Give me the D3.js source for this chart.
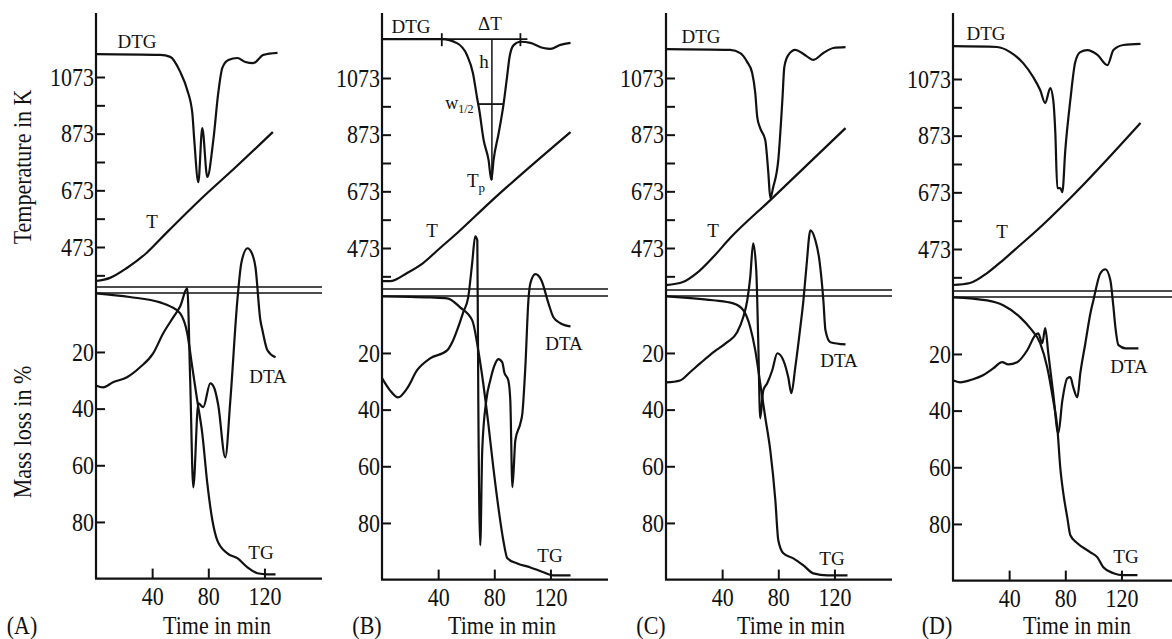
<!DOCTYPE html>
<html>
<head>
<meta charset="utf-8">
<script src="https://cdn.jsdelivr.net/npm/d3@7"></script>
<style>
  body { margin: 0; background: #fff; }
  svg { display: block; }
  text { font-family: "Liberation Serif", "Times New Roman", serif; fill: #111; }
</style>
</head>
<body>
<svg id="chart" width="1172" height="639"></svg>
<script>
// axis ticks
const tempTicks = [473, 673, 873, 1073];
const tempMinor = [373, 573, 773, 973];
const massTicks = [20, 40, 60, 80];
const timeTicks = [40, 80, 120];
const panelNames = ["(A)", "(B)", "(C)", "(D)"];

// [time in min, K read on the left axis]
const dtgA = [[0,1154],[45.7,1151],[52.9,1144],[60,1091],[65,1027],[68.6,946],[70,851],[72.9,702],[75.7,893],[79.3,720],[83.6,851],[87.1,1017],[90,1105],[94.3,1133],[100.7,1140],[106.4,1126],[112,1122],[119.3,1151],[129.3,1158]];
const dtgB = [[0,1210],[42.6,1210],[53.4,1196],[60.5,1154],[64.8,1090],[67.6,1007],[69.3,960],[72.4,854],[75.9,784],[77.9,713],[79.5,784],[83.1,878],[86.6,981],[89.1,1078],[90.9,1148],[93.8,1189],[98.6,1201],[105.7,1197],[115,1179],[120,1176],[127.1,1190],[134.3,1197]];
const dtgC = [[0,1175],[45.7,1172],[52.9,1161],[57.9,1129],[61.4,1091],[63.6,1020],[65,935],[67.1,896],[70.7,854],[72.9,738],[74.3,649],[76.4,688],[80,784],[82.9,995],[84.3,1112],[87.1,1154],[92.1,1172],[97.9,1158],[105,1137],[112.1,1161],[119.3,1179],[127.9,1182]];
const dtgD = [[0,1189],[31.4,1186],[40.7,1168],[50,1129],[57.1,1080],[62.1,1034],[65.7,988],[69.3,1041],[71.4,999],[72.9,882],[74.3,688],[76.4,688],[77.9,674],[80,822],[83.6,999],[87.1,1133],[90.7,1168],[95.7,1175],[102.9,1158],[110,1122],[114.3,1175],[121.4,1193],[133.6,1197]];

const tempA = [[0,353],[10,364],[22,399],[36,452],[50,522],[74,639],[100,757],[126,879]];
const tempB = [[0,356],[5.7,356],[17.9,385],[29.3,420],[41.4,473],[53.6,526],[77.1,635],[134.3,882]];
const tempC = [[0,342],[12.1,353],[22.1,385],[33.6,441],[45.7,508],[74.3,642],[127.9,896]];
const tempD = [[0,346],[12.1,353],[24.3,388],[35.7,434],[47.9,487],[60,540],[83.6,653],[133.6,918]];

// [time in min, % read on the mass-loss axis]
const dtaA = [[0,31.8],[5,32.5],[12.1,30.7],[22.1,28.9],[31.4,25.4],[40.7,20.5],[47.9,13.4],[55,7.8],[60,3.9],[65,-2.5],[67.1,30],[69.3,67.8],[72.9,38.1],[76.4,39.5],[81.4,31.1],[84.3,32.8],[87.1,38.8],[92.1,57.2],[95.7,37.1],[100.7,1.8],[103.6,-11.6],[107.9,-16.6],[110.7,-15.2],[113.6,-9.9],[117.1,8.8],[118.6,12.4],[122.1,19.4],[127.9,21.9]];
const dtaB = [[0,28.9],[5.7,33.2],[11.4,35.7],[17.9,32.5],[25,26.1],[34.3,21.9],[46.4,19.1],[50.7,15.5],[54.3,10.9],[57.9,5.6],[61.4,0.4],[64.3,-12],[66.4,-21.2],[67.9,-19.8],[68.6,36.7],[70,87.9],[71.4,54.4],[74.3,36.7],[77.1,29.7],[80.7,23.7],[82.9,22.2],[85.7,23.3],[87.1,26.8],[90,29.7],[91.4,36.7],[92.9,67.4],[95,50.8],[98.6,44.8],[100,41.3],[102.1,25.1],[104.3,1.4],[105.7,-4.6],[109.3,-7.8],[113.6,-5.6],[118.6,2.5],[122.1,7.4],[127.1,9.5],[134.3,10.6]];
const dtaC = [[0,30.4],[10,29.7],[17.1,26.8],[24.3,23.7],[33.6,19.8],[43.6,16.2],[50.7,12.7],[55,7.4],[57.9,1.4],[60,-6.7],[62.1,-18.7],[64.3,-9.2],[65.7,15.5],[67.1,43.1],[69.3,33.2],[72.1,30.7],[75.7,26.1],[79.3,20.1],[83.6,22.6],[87.1,28.6],[89.3,34.2],[92.1,25.1],[95.7,10.9],[97.9,1.4],[100,-10.2],[102.9,-23.3],[106.4,-19.8],[109.3,-12.7],[112.1,1.4],[113.6,12],[117.1,16.2],[127.9,17]];
const dtaD = [[0,29.3],[5,30],[14.3,28.9],[21.4,27.5],[28.6,25.1],[35,22.9],[39.3,23.7],[45.7,22.9],[52.9,18.7],[58.6,13.4],[60.7,12.7],[63.6,16.2],[65.7,10.9],[67.9,19.8],[71.4,33.9],[75,48],[77.9,36.4],[81.4,28.6],[83.6,28.2],[85.7,31.8],[88.6,35.3],[90.7,26.8],[94.3,16.2],[97.9,5.6],[100,1.1],[105,-8.5],[108.6,-9.9],[112.1,-6],[114.3,3.5],[115.7,10.6],[117.9,16.9],[122.9,18],[132.1,18]];

const tgA = [[0,-0.7],[24,0.6],[45.7,2.5],[52.9,3.9],[60,6.4],[65,13.4],[68.6,25.4],[72.1,37.1],[75.7,48.7],[79.3,66.4],[82.9,79.4],[86.4,86.5],[93.6,91.1],[100.7,92.8],[107.9,96],[115,98.1],[122,98.5],[127.9,98.5]];
const tgB = [[0,0],[34.3,0.4],[46.4,0.7],[55.7,3.9],[64.3,8.5],[68.6,19.1],[72.1,30.7],[75.7,44.8],[79.3,60.4],[82.9,74.5],[86.4,86.1],[89.3,92.5],[96.4,94.3],[105.7,95.7],[115,97.4],[122.1,98.5],[134.3,98.5]];
const tgC = [[0,0],[33.6,1.4],[47.9,2.5],[55,4.9],[60,10.9],[63.6,19.1],[67.1,30.7],[70.7,42.7],[74.3,54.4],[77.9,72],[80,86.1],[83.6,90.7],[90.7,92.5],[97.9,95],[105,97.8],[115,98.5],[129.3,98.5]];
const tgD = [[0,0],[24.3,1.1],[35.7,2.8],[47.9,7.1],[55,10.9],[62.1,16.2],[67.1,24.7],[71.4,36.4],[74.3,45.9],[76.4,60],[78.6,69.2],[81.4,77.7],[83.6,84],[88.6,86.8],[97.9,90],[102.9,91.8],[107.1,95.3],[114.3,97.4],[121.4,98.1],[131.4,98.1]];

// the two horizontal reference lines under the T curve (% axis)
const refA = [-2.9, -0.8], refB = [-2.6, -0.1], refC = [-2.2, -0.1], refD = [-2.2, -0.1];

// peak construction drawn in panel B
const deltaTB = [42.6, 98.6];      // start / end of the DTG peak (min)
const deltaTLineEnd = 103.6;
const baseKB = 1210;
const peakB = [78.3, 713];         // Tp
const halfB = [68.8, 86.6, 981];   // w1/2 from, to, level

const panels = [
  {x0: 96,  dy: 0, dtg: dtgA, temp: tempA, dta: dtaA, tg: tgA, ref: refA,
   lab: {dtg:[41,48], t:[56,228], dta:[172,383], tg:[165,559]}, title: 121, letter: -74},
  {x0: 382, dy: 1, dtg: dtgB, temp: tempB, dta: dtaB, tg: tgB, ref: refB,
   lab: {dtg:[29,33], t:[50,237], dta:[182,350], tg:[168,562]}, title: 120, letter: -15},
  {x0: 666, dy: 1, dtg: dtgC, temp: tempC, dta: dtaC, tg: tgC, ref: refC,
   lab: {dtg:[35,43], t:[47,237], dta:[173,367], tg:[166,565]}, title: 125, letter: -15},
  {x0: 953, dy: 2, dtg: dtgD, temp: tempD, dta: dtaD, tg: tgD, ref: refD,
   lab: {dtg:[33,40], t:[49,238], dta:[176,373], tg:[173,563]}, title: 124, letter: -16}
];

const svg = d3.select("#chart");
const ink = "#111";
const stretch = "scale(1,1.15)";

function bigText(x, y, txt, rot) {
  svg.append("text")
    .attr("transform", `translate(${x},${y})` + (rot ? " rotate(-90)" : "") + " " + stretch)
    .attr("text-anchor", "middle")
    .style("font-size", "22px")
    .text(txt);
}

function smallText(g, x, y, txt) {
  g.append("text")
    .attr("x", x).attr("y", y)
    .attr("text-anchor", "middle")
    .style("font-size", "19px")
    .text(txt);
}

panels.forEach(function(p, i) {
  const g = svg.append("g");
  const x = d3.scaleLinear().domain([0, 161]).range([p.x0, p.x0 + 226]);
  const yT = d3.scaleLinear().domain([473, 1073]).range([247 + p.dy, 77 + p.dy]);
  const yM = d3.scaleLinear().domain([0, 100]).range([295.3 + p.dy, 578.6 + p.dy]);

  // left axes, ticks pointing inward
  g.append("g").attr("transform", `translate(${p.x0},0)`)
    .call(d3.axisLeft(yT).tickValues(tempTicks).tickSize(-9).tickPadding(2).tickFormat(d3.format("d")));
  g.append("g").attr("transform", `translate(${p.x0},0)`)
    .call(d3.axisLeft(yT).tickValues(tempMinor).tickSize(-9).tickFormat(""));
  g.append("g").attr("transform", `translate(${p.x0},0)`)
    .call(d3.axisLeft(yM).tickValues(massTicks).tickSize(-9).tickPadding(2));
  g.append("g").attr("transform", `translate(0,${yM(100)})`)
    .call(d3.axisBottom(x).tickValues(timeTicks).tickSize(-10).tickPadding(7));

  g.selectAll(".domain").remove();
  g.selectAll(".tick line").attr("stroke", ink).attr("stroke-width", 2);
  g.selectAll(".tick text")
    .attr("fill", ink)
    .style("font-family", '"Liberation Serif", "Times New Roman", serif')
    .style("font-size", "22px")
    .attr("transform", stretch);

  // axis lines
  g.append("line").attr("x1", p.x0).attr("x2", p.x0)
    .attr("y1", 13).attr("y2", yM(100))
    .attr("stroke", ink).attr("stroke-width", 2.2);
  g.append("line").attr("x1", p.x0 - 1).attr("x2", x(161))
    .attr("y1", yM(100)).attr("y2", yM(100))
    .attr("stroke", ink).attr("stroke-width", 2.2);

  // reference lines
  p.ref.forEach(function(v) {
    g.append("line").attr("x1", p.x0).attr("x2", x(161))
      .attr("y1", yM(v)).attr("y2", yM(v))
      .attr("stroke", ink).attr("stroke-width", 1.5);
  });

  const lineT = d3.line().x(d => x(d[0])).y(d => yT(d[1])).curve(d3.curveMonotoneX);
  const lineM = d3.line().x(d => x(d[0])).y(d => yM(d[1])).curve(d3.curveMonotoneX);

  [[p.dtg, lineT], [p.temp, lineT], [p.dta, lineM], [p.tg, lineM]].forEach(function(s) {
    g.append("path").datum(s[0])
      .attr("d", s[1])
      .attr("fill", "none")
      .attr("stroke", ink)
      .attr("stroke-width", 2.2)
      .attr("stroke-linejoin", "round");
  });

  smallText(g, p.x0 + p.lab.dtg[0], p.lab.dtg[1], "DTG");
  smallText(g, p.x0 + p.lab.t[0], p.lab.t[1], "T");
  smallText(g, p.x0 + p.lab.dta[0], p.lab.dta[1], "DTA");
  smallText(g, p.x0 + p.lab.tg[0], p.lab.tg[1], "TG");

  bigText(p.x0 + p.title, 634, "Time in min");
  bigText(p.x0 + p.letter, 634, panelNames[i]);

  if (i === 1) {
    const yb = yT(baseKB);
    g.append("line").attr("x1", p.x0).attr("x2", x(deltaTLineEnd))
      .attr("y1", yb).attr("y2", yb).attr("stroke", ink).attr("stroke-width", 1.8);
    deltaTB.forEach(function(t) {
      g.append("line").attr("x1", x(t)).attr("x2", x(t))
        .attr("y1", yb - 6).attr("y2", yb + 7).attr("stroke", ink).attr("stroke-width", 1.8);
    });
    g.append("line").attr("x1", x(peakB[0])).attr("x2", x(peakB[0]))
      .attr("y1", yb).attr("y2", yT(peakB[1])).attr("stroke", ink).attr("stroke-width", 1.5);
    g.append("line").attr("x1", x(halfB[0])).attr("x2", x(halfB[1]))
      .attr("y1", yT(halfB[2])).attr("y2", yT(halfB[2])).attr("stroke", ink).attr("stroke-width", 1.8);

    smallText(g, x(peakB[0]) - 2, yb - 9, "\u0394T");
    smallText(g, x(peakB[0]) - 8, 68, "h");
    const w = g.append("text").attr("x", x(halfB[0]) - 5).attr("y", yT(halfB[2]) + 5)
      .attr("text-anchor", "end").style("font-size", "18px");
    w.append("tspan").text("w");
    w.append("tspan").attr("dy", 4).style("font-size", "12px").text("1/2");
    const tp = g.append("text").attr("x", x(peakB[0]) - 25).attr("y", 187)
      .style("font-size", "19px");
    tp.append("tspan").text("T");
    tp.append("tspan").attr("dy", 5).style("font-size", "13px").text("p");
  }
});

bigText(31, 167, "Temperature in K", true);
bigText(31, 432, "Mass loss in %", true);
</script>
</body>
</html>
